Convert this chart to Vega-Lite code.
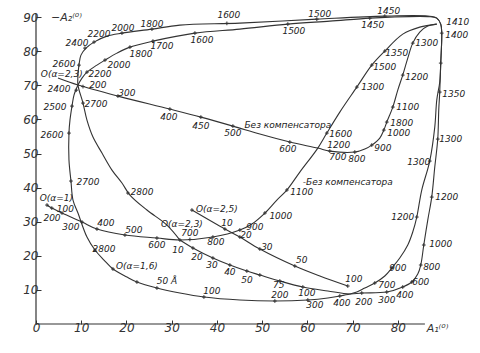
{
  "$schema": "https://vega.github.io/schema/vega-lite/v6.json",
  "width": 407,
  "height": 317,
  "autosize": {"type": "none"},
  "padding": {"left": 36, "top": 7, "right": 37, "bottom": 29},
  "background": "#ffffff",
  "config": {"view": {"stroke": null}},
  "datasets": {
    "axes": [
      {"x": 0, "x2": 86, "y": 0, "y2": 0},
      {"x": 0, "x2": 0, "y": 0, "y2": 91}
    ],
    "curves": [
      {"c":"a23","i":0,"x":31.82,"y":24.63},{"c":"a23","i":1,"x":34.70,"y":22.29},{"c":"a23","i":2,"x":39.12,"y":19.35},{"c":"a23","i":3,"x":42.87,"y":17.30},{"c":"a23","i":4,"x":46.63,"y":15.54},{"c":"a23","i":5,"x":49.50,"y":14.37},{"c":"a23","i":6,"x":53.92,"y":12.61},{"c":"a23","i":7,"x":59.01,"y":10.85},{"c":"a23","i":8,"x":64.53,"y":9.68},{"c":"a23","i":9,"x":69.39,"y":8.80},{"c":"a23","i":10,"x":72.04,"y":9.09},{"c":"a23","i":11,"x":77.57,"y":9.38},{"c":"a23","i":12,"x":81.10,"y":10.85},{"c":"a23","i":13,"x":83.09,"y":12.32},{"c":"a23","i":14,"x":84.42,"y":14.66},{"c":"a23","i":15,"x":85.08,"y":17.30},{"c":"a23","i":16,"x":85.75,"y":23.17},{"c":"a23","i":17,"x":86.63,"y":30.50},{"c":"a23","i":18,"x":87.51,"y":37.24},{"c":"a23","i":19,"x":88.18,"y":46.04},{"c":"a23","i":20,"x":88.84,"y":54.25},{"c":"a23","i":21,"x":89.06,"y":62.76},{"c":"a23","i":22,"x":89.28,"y":68.04},{"c":"a23","i":23,"x":89.50,"y":76.54},{"c":"a23","i":24,"x":89.72,"y":85.34},{"c":"a23","i":25,"x":89.50,"y":87.98},{"c":"a23","i":26,"x":88.62,"y":89.74},{"c":"a23","i":27,"x":86.63,"y":90.32},{"c":"a23","i":28,"x":77.13,"y":90.32},{"c":"a23","i":29,"x":62.10,"y":89.44},{"c":"a23","i":30,"x":45.08,"y":88.27},{"c":"a23","i":31,"x":31.82,"y":87.68},{"c":"a23","i":32,"x":25.64,"y":86.51},{"c":"a23","i":33,"x":19.01,"y":85.34},{"c":"a23","i":34,"x":15.69,"y":84.46},{"c":"a23","i":35,"x":12.82,"y":82.70},{"c":"a23","i":36,"x":11.05,"y":80.94},{"c":"a23","i":37,"x":9.94,"y":78.89},{"c":"a23","i":38,"x":9.50,"y":75.95},{"c":"a23","i":39,"x":9.28,"y":73.02},{"c":"a23","i":40,"x":9.28,"y":70.09},{"c":"a23","i":41,"x":10.39,"y":64.81},{"c":"a23","i":42,"x":11.27,"y":59.82},{"c":"a23","i":43,"x":12.60,"y":54.84},{"c":"a23","i":44,"x":14.59,"y":50.15},{"c":"a23","i":45,"x":16.80,"y":45.16},{"c":"a23","i":46,"x":19.01,"y":41.35},{"c":"a23","i":47,"x":20.77,"y":37.83},{"c":"a23","i":48,"x":24.53,"y":33.43},{"c":"a23","i":49,"x":28.95,"y":29.03},{"c":"a23","i":50,"x":31.82,"y":24.63},
      {"c":"a16","i":0,"x":9.28,"y":70.09},{"c":"a16","i":1,"x":8.40,"y":67.16},{"c":"a16","i":2,"x":7.96,"y":63.93},{"c":"a16","i":3,"x":7.51,"y":59.82},{"c":"a16","i":4,"x":7.29,"y":56.01},{"c":"a16","i":5,"x":7.29,"y":48.09},{"c":"a16","i":6,"x":7.73,"y":41.94},{"c":"a16","i":7,"x":8.18,"y":36.36},{"c":"a16","i":8,"x":9.28,"y":32.55},{"c":"a16","i":9,"x":11.27,"y":25.51},{"c":"a16","i":10,"x":13.04,"y":21.70},{"c":"a16","i":11,"x":15.03,"y":18.77},{"c":"a16","i":12,"x":17.02,"y":16.13},{"c":"a16","i":13,"x":20.11,"y":13.78},{"c":"a16","i":14,"x":22.32,"y":12.32},{"c":"a16","i":15,"x":26.74,"y":10.56},{"c":"a16","i":16,"x":31.82,"y":9.09},{"c":"a16","i":17,"x":37.13,"y":7.92},{"c":"a16","i":18,"x":45.08,"y":7.04},{"c":"a16","i":19,"x":52.82,"y":6.74},{"c":"a16","i":20,"x":60.11,"y":7.04},{"c":"a16","i":21,"x":64.53,"y":7.62},{"c":"a16","i":22,"x":67.18,"y":8.21},{"c":"a16","i":23,"x":69.39,"y":8.80},{"c":"a16","i":24,"x":70.94,"y":9.38},{"c":"a16","i":25,"x":72.71,"y":10.56},{"c":"a16","i":26,"x":74.92,"y":12.02},{"c":"a16","i":27,"x":77.13,"y":14.08},{"c":"a16","i":28,"x":78.67,"y":16.42},{"c":"a16","i":29,"x":80.44,"y":19.35},{"c":"a16","i":30,"x":82.21,"y":23.17},{"c":"a16","i":31,"x":83.31,"y":26.98},{"c":"a16","i":32,"x":84.20,"y":31.38},{"c":"a16","i":33,"x":85.30,"y":39.30},{"c":"a16","i":34,"x":87.07,"y":47.80},{"c":"a16","i":35,"x":88.18,"y":57.77},{"c":"a16","i":36,"x":88.62,"y":65.69},{"c":"a16","i":37,"x":89.28,"y":71.00},{"c":"a16","i":38,"x":89.50,"y":76.54},{"c":"a16","i":39,"x":89.72,"y":85.34},{"c":"a16","i":40,"x":89.50,"y":87.98},{"c":"a16","i":41,"x":88.62,"y":89.74},{"c":"a16","i":42,"x":86.63,"y":90.18},{"c":"a16","i":43,"x":78.23,"y":90.03},{"c":"a16","i":44,"x":73.81,"y":89.74},{"c":"a16","i":45,"x":64.97,"y":88.86},{"c":"a16","i":46,"x":55.69,"y":87.98},{"c":"a16","i":47,"x":45.08,"y":86.51},{"c":"a16","i":48,"x":35.14,"y":85.34},{"c":"a16","i":49,"x":25.86,"y":82.99},{"c":"a16","i":50,"x":20.77,"y":81.23},{"c":"a16","i":51,"x":17.90,"y":79.47},{"c":"a16","i":52,"x":15.25,"y":77.42},{"c":"a16","i":53,"x":13.48,"y":75.95},{"c":"a16","i":54,"x":11.27,"y":73.90},{"c":"a16","i":55,"x":10.17,"y":72.14},{"c":"a16","i":56,"x":9.28,"y":70.09},{"c":"a16","i":57,"x":8.40,"y":67.16},
      {"c":"a1","i":0,"x":2.43,"y":34.90},{"c":"a1","i":1,"x":3.09,"y":34.31},{"c":"a1","i":2,"x":5.75,"y":32.55},{"c":"a1","i":3,"x":10.17,"y":29.91},{"c":"a1","i":4,"x":13.48,"y":27.86},{"c":"a1","i":5,"x":19.67,"y":26.10},{"c":"a1","i":6,"x":26.74,"y":25.22},{"c":"a1","i":7,"x":31.82,"y":24.63},{"c":"a1","i":8,"x":39.12,"y":25.51},{"c":"a1","i":9,"x":45.08,"y":27.57},{"c":"a1","i":10,"x":47.73,"y":29.33},{"c":"a1","i":11,"x":50.61,"y":32.55},{"c":"a1","i":12,"x":53.26,"y":36.36},{"c":"a1","i":13,"x":55.47,"y":39.30},{"c":"a1","i":14,"x":58.34,"y":44.57},{"c":"a1","i":15,"x":62.32,"y":51.61},{"c":"a1","i":16,"x":64.31,"y":56.01},{"c":"a1","i":17,"x":67.18,"y":62.17},{"c":"a1","i":18,"x":70.94,"y":69.50},{"c":"a1","i":19,"x":74.25,"y":75.95},{"c":"a1","i":20,"x":77.13,"y":80.06},{"c":"a1","i":21,"x":81.10,"y":85.04},{"c":"a1","i":22,"x":84.86,"y":87.10},{"c":"a1","i":23,"x":88.62,"y":87.98},
      {"c":"bez","i":0,"x":4.86,"y":72.14},{"c":"bez","i":1,"x":9.28,"y":70.09},{"c":"bez","i":2,"x":18.12,"y":66.86},{"c":"bez","i":3,"x":29.61,"y":63.05},{"c":"bez","i":4,"x":36.46,"y":60.70},{"c":"bez","i":5,"x":43.54,"y":58.06},{"c":"bez","i":6,"x":49.50,"y":55.72},{"c":"bez","i":7,"x":56.13,"y":53.37},{"c":"bez","i":8,"x":62.32,"y":51.61},{"c":"bez","i":9,"x":64.97,"y":50.73},{"c":"bez","i":10,"x":70.50,"y":50.44},{"c":"bez","i":11,"x":72.71,"y":51.32},{"c":"bez","i":12,"x":74.25,"y":52.49},{"c":"bez","i":13,"x":76.02,"y":54.55},{"c":"bez","i":14,"x":76.91,"y":56.89},{"c":"bez","i":15,"x":77.57,"y":59.24},{"c":"bez","i":16,"x":78.90,"y":63.64},{"c":"bez","i":17,"x":80.00,"y":68.62},{"c":"bez","i":18,"x":81.10,"y":73.02},{"c":"bez","i":19,"x":82.21,"y":78.01},{"c":"bez","i":20,"x":83.31,"y":82.40},{"c":"bez","i":21,"x":84.86,"y":85.63},{"c":"bez","i":22,"x":86.63,"y":87.39},{"c":"bez","i":23,"x":88.62,"y":87.98},
      {"c":"a25","i":0,"x":34.48,"y":33.43},{"c":"a25","i":1,"x":41.77,"y":27.86},{"c":"a25","i":2,"x":45.08,"y":25.51},{"c":"a25","i":3,"x":49.50,"y":21.99},{"c":"a25","i":4,"x":57.24,"y":17.01},{"c":"a25","i":5,"x":62.76,"y":14.08},{"c":"a25","i":6,"x":68.95,"y":11.14}
    ],
    "ticks": [
      {"x":31.82,"y":24.63},{"x":34.70,"y":22.29},{"x":39.12,"y":19.35},{"x":42.87,"y":17.30},{"x":46.63,"y":15.54},{"x":49.50,"y":14.37},{"x":53.92,"y":12.61},{"x":59.01,"y":10.85},{"x":72.04,"y":9.09},{"x":77.57,"y":9.38},{"x":81.10,"y":10.85},{"x":83.09,"y":12.32},{"x":85.08,"y":17.30},{"x":85.75,"y":23.17},{"x":87.51,"y":37.24},{"x":88.84,"y":54.25},{"x":89.28,"y":68.04},{"x":89.50,"y":76.54},{"x":89.72,"y":85.34},{"x":77.13,"y":90.32},{"x":62.10,"y":89.44},{"x":42.21,"y":88.2},{"x":25.64,"y":86.51},{"x":19.01,"y":85.34},{"x":12.82,"y":82.70},{"x":10.83,"y":80.94},{"x":9.50,"y":75.95},{"x":10.39,"y":64.81},{"x":20.33,"y":38.42},
      {"x":8.9,"y":68.6},{"x":7.96,"y":63.93},{"x":7.29,"y":56.01},{"x":7.73,"y":41.94},{"x":13.04,"y":21.70},{"x":17.02,"y":16.13},{"x":22.32,"y":12.32},{"x":26.74,"y":10.56},{"x":37.13,"y":7.92},{"x":52.82,"y":6.74},{"x":60.11,"y":7.04},{"x":67.18,"y":8.21},{"x":74.92,"y":12.02},{"x":78.67,"y":16.42},{"x":84.20,"y":31.38},{"x":87.07,"y":47.80},{"x":73.81,"y":89.74},{"x":55.69,"y":87.98},{"x":35.14,"y":85.34},{"x":25.86,"y":82.99},{"x":20.77,"y":81.23},{"x":15.25,"y":77.42},{"x":11.27,"y":73.90},
      {"x":2.43,"y":34.90},{"x":3.5,"y":34.0},{"x":5.75,"y":32.55},{"x":10.17,"y":29.91},{"x":13.48,"y":27.86},{"x":19.67,"y":26.10},{"x":26.74,"y":25.22},{"x":34.03,"y":24.8},{"x":39.12,"y":25.51},{"x":45.08,"y":27.57},{"x":50.61,"y":32.55},{"x":55.47,"y":39.30},{"x":64.31,"y":56.01},{"x":70.94,"y":69.50},{"x":74.25,"y":75.95},{"x":77.13,"y":80.06},
      {"x":10.39,"y":69.65},{"x":18.12,"y":66.86},{"x":29.61,"y":63.05},{"x":36.46,"y":60.70},{"x":43.54,"y":58.06},{"x":56.13,"y":53.37},{"x":64.97,"y":50.73},{"x":70.50,"y":50.44},{"x":74.25,"y":52.49},{"x":76.91,"y":56.89},{"x":77.57,"y":59.24},{"x":78.90,"y":63.64},{"x":81.10,"y":73.02},{"x":83.31,"y":82.40},
      {"x":34.48,"y":33.43},{"x":41.77,"y":27.86},{"x":45.08,"y":25.51},{"x":49.50,"y":21.99},{"x":57.24,"y":17.01},{"x":68.95,"y":11.14}
    ],
    "labels": [
      {"t":"2400","x":9.06,"y":82.40},{"t":"2200","x":13.92,"y":85.04},{"t":"2000","x":19.23,"y":86.80},{"t":"1800","x":25.64,"y":87.98},{"t":"1600","x":42.65,"y":90.62},{"t":"1500","x":62.76,"y":90.91},{"t":"1450","x":78.01,"y":91.79},
      {"t":"1600","x":36.69,"y":83.28},{"t":"1700","x":27.85,"y":81.52},{"t":"1800","x":23.20,"y":79.18},{"t":"2000","x":18.34,"y":75.95},{"t":"2200","x":14.14,"y":73.31},
      {"t":"2600","x":6.2,"y":76.25},{"t":"O(α=2,3)","x":5.7,"y":73.2},{"t":"2400","x":5.08,"y":68.91},{"t":"200","x":13.70,"y":70.09},{"t":"300","x":20.11,"y":67.74},{"t":"2500","x":4.20,"y":63.64},{"t":"2700","x":13.26,"y":64.52},{"t":"400","x":29.39,"y":60.70},{"t":"450","x":36.46,"y":58.06},{"t":"500","x":43.54,"y":56.01},{"t":"2600","x":3.54,"y":55.43},
      {"t":"1500","x":57.02,"y":85.92},{"t":"1450","x":74.48,"y":87.68},{"t":"1410","x":93.26,"y":88.56},{"t":"1400","x":93.04,"y":84.75},{"t":"1300","x":86.41,"y":82.40},{"t":"1350","x":79.78,"y":79.47},{"t":"1500","x":77.13,"y":75.37},{"t":"1200","x":84.20,"y":72.43},{"t":"1300","x":74.48,"y":69.50},{"t":"1350","x":92.38,"y":67.45},{"t":"1100","x":82.21,"y":63.64},
      {"t":"Без компенсатора","x":55.69,"y":58.36},{"t":"1800","x":80.88,"y":58.94},{"t":"1000","x":80.22,"y":56.01},{"t":"1600","x":67.40,"y":55.72},{"t":"1300","x":91.71,"y":54.25},{"t":"600","x":55.69,"y":51.32},{"t":"1200","x":66.96,"y":52.49},{"t":"900","x":76.69,"y":51.61},{"t":"700","x":66.74,"y":48.97},{"t":"800","x":70.94,"y":48.39},{"t":"1300","x":84.64,"y":47.51},
      {"t":"-Без компенсатора","x":68.95,"y":41.64},{"t":"1100","x":58.78,"y":38.71},{"t":"1200","x":90.83,"y":37.24},{"t":"1000","x":54.14,"y":31.67},{"t":"1200","x":81.10,"y":31.38},{"t":"900","x":48.40,"y":28.45},{"t":"20","x":46.41,"y":26.10},{"t":"1000","x":89.50,"y":23.46},{"t":"30","x":51.05,"y":22.58},{"t":"50","x":58.78,"y":18.77},{"t":"800","x":87.51,"y":16.72},{"t":"900","x":80.00,"y":16.42},{"t":"50","x":46.63,"y":12.90},{"t":"100","x":70.28,"y":13.20},{"t":"600","x":85.08,"y":12.32},{"t":"700","x":77.57,"y":11.44},{"t":"75","x":53.70,"y":11.44},{"t":"100","x":59.89,"y":9.09},{"t":"400","x":81.55,"y":8.50},{"t":"200","x":53.92,"y":8.50},{"t":"300","x":61.66,"y":5.57},{"t":"400","x":67.62,"y":6.16},{"t":"200","x":72.49,"y":6.45},{"t":"300","x":77.57,"y":7.04},
      {"t":"2700","x":11.49,"y":41.64},{"t":"2800","x":23.43,"y":38.71},{"t":"O(α=1)","x":4.5,"y":37.0},{"t":"100","x":6.5,"y":33.7},{"t":"200","x":3.54,"y":31.0},{"t":"300","x":7.73,"y":28.45},{"t":"400","x":15.47,"y":29.62},{"t":"500","x":21.66,"y":27.57},{"t":"O(α=2,3)","x":32.27,"y":29.33},{"t":"700","x":34.03,"y":26.69},{"t":"600","x":26.74,"y":23.17},{"t":"10","x":31.38,"y":21.70},{"t":"2800","x":15.03,"y":21.99},{"t":"O(α=2,5)","x":40.00,"y":33.72},{"t":"10","x":42.21,"y":29.62},{"t":"800","x":39.78,"y":24.05},{"t":"20","x":35.58,"y":19.65},{"t":"30","x":38.90,"y":17.30},{"t":"40","x":42.87,"y":15.25},{"t":"O(α=1,6)","x":22.32,"y":17.01},{"t":"50 Å","x":28.95,"y":12.61},{"t":"100","x":38.90,"y":9.68}
    ]
  },
  "encoding": {
    "x": {"field": "x", "type": "quantitative",
      "scale": {"domain": [0, 90], "nice": false, "zero": false},
      "axis": {"values": [0,10,20,30,40,50,60,70,80], "domain": false, "grid": false, "tickSize": -4, "tickColor": "#333", "labelPadding": 2, "labelFlush": false,
        "labelFont": "DejaVu Sans", "labelFontStyle": "italic", "labelFontSize": 12, "labelColor": "#333",
        "title": "A₁⁽⁰⁾", "titleX": 401, "titleY": 4, "titleAlign": "center", "titleBaseline": "middle", "titleFont": "DejaVu Sans", "titleFontStyle": "italic", "titleFontWeight": "normal", "titleFontSize": 11, "titleColor": "#333"}},
    "y": {"field": "y", "type": "quantitative",
      "scale": {"domain": [0, 93], "nice": false, "zero": false},
      "axis": {"values": [10,20,30,40,50,60,70,80,90], "domain": false, "grid": false, "tickSize": -5, "tickColor": "#333", "labelPadding": 3,
        "labelFont": "DejaVu Sans", "labelFontStyle": "italic", "labelFontSize": 12, "labelColor": "#333",
        "title": "−A₂⁽⁰⁾", "titleAngle": 0, "titleX": 30, "titleY": 10, "titleAlign": "center", "titleBaseline": "middle", "titleFont": "DejaVu Sans", "titleFontStyle": "italic", "titleFontWeight": "normal", "titleFontSize": 11, "titleColor": "#333"}}
  },
  "layer": [
    {"data": {"name": "axes"}, "mark": {"type": "rule", "color": "#333", "strokeWidth": 1.2},
      "encoding": {"x2": {"field": "x2"}, "y2": {"field": "y2"}}},
    {"data": {"name": "curves"}, "mark": {"type": "line", "interpolate": "catmull-rom", "color": "#333", "strokeWidth": 1.1},
      "encoding": {"detail": {"field": "c"}, "order": {"field": "i", "type": "quantitative"}}},
    {"data": {"name": "ticks"}, "mark": {"type": "point", "shape": "M-1,0L1,0M0,-1L0,1", "size": 14, "filled": false, "color": "#333", "strokeWidth": 1, "opacity": 1}},
    {"data": {"name": "labels"}, "mark": {"type": "text", "font": "DejaVu Sans", "fontStyle": "italic", "fontSize": 9, "color": "#222", "align": "center", "baseline": "middle"},
      "encoding": {"text": {"field": "t"}}}
  ]
}
